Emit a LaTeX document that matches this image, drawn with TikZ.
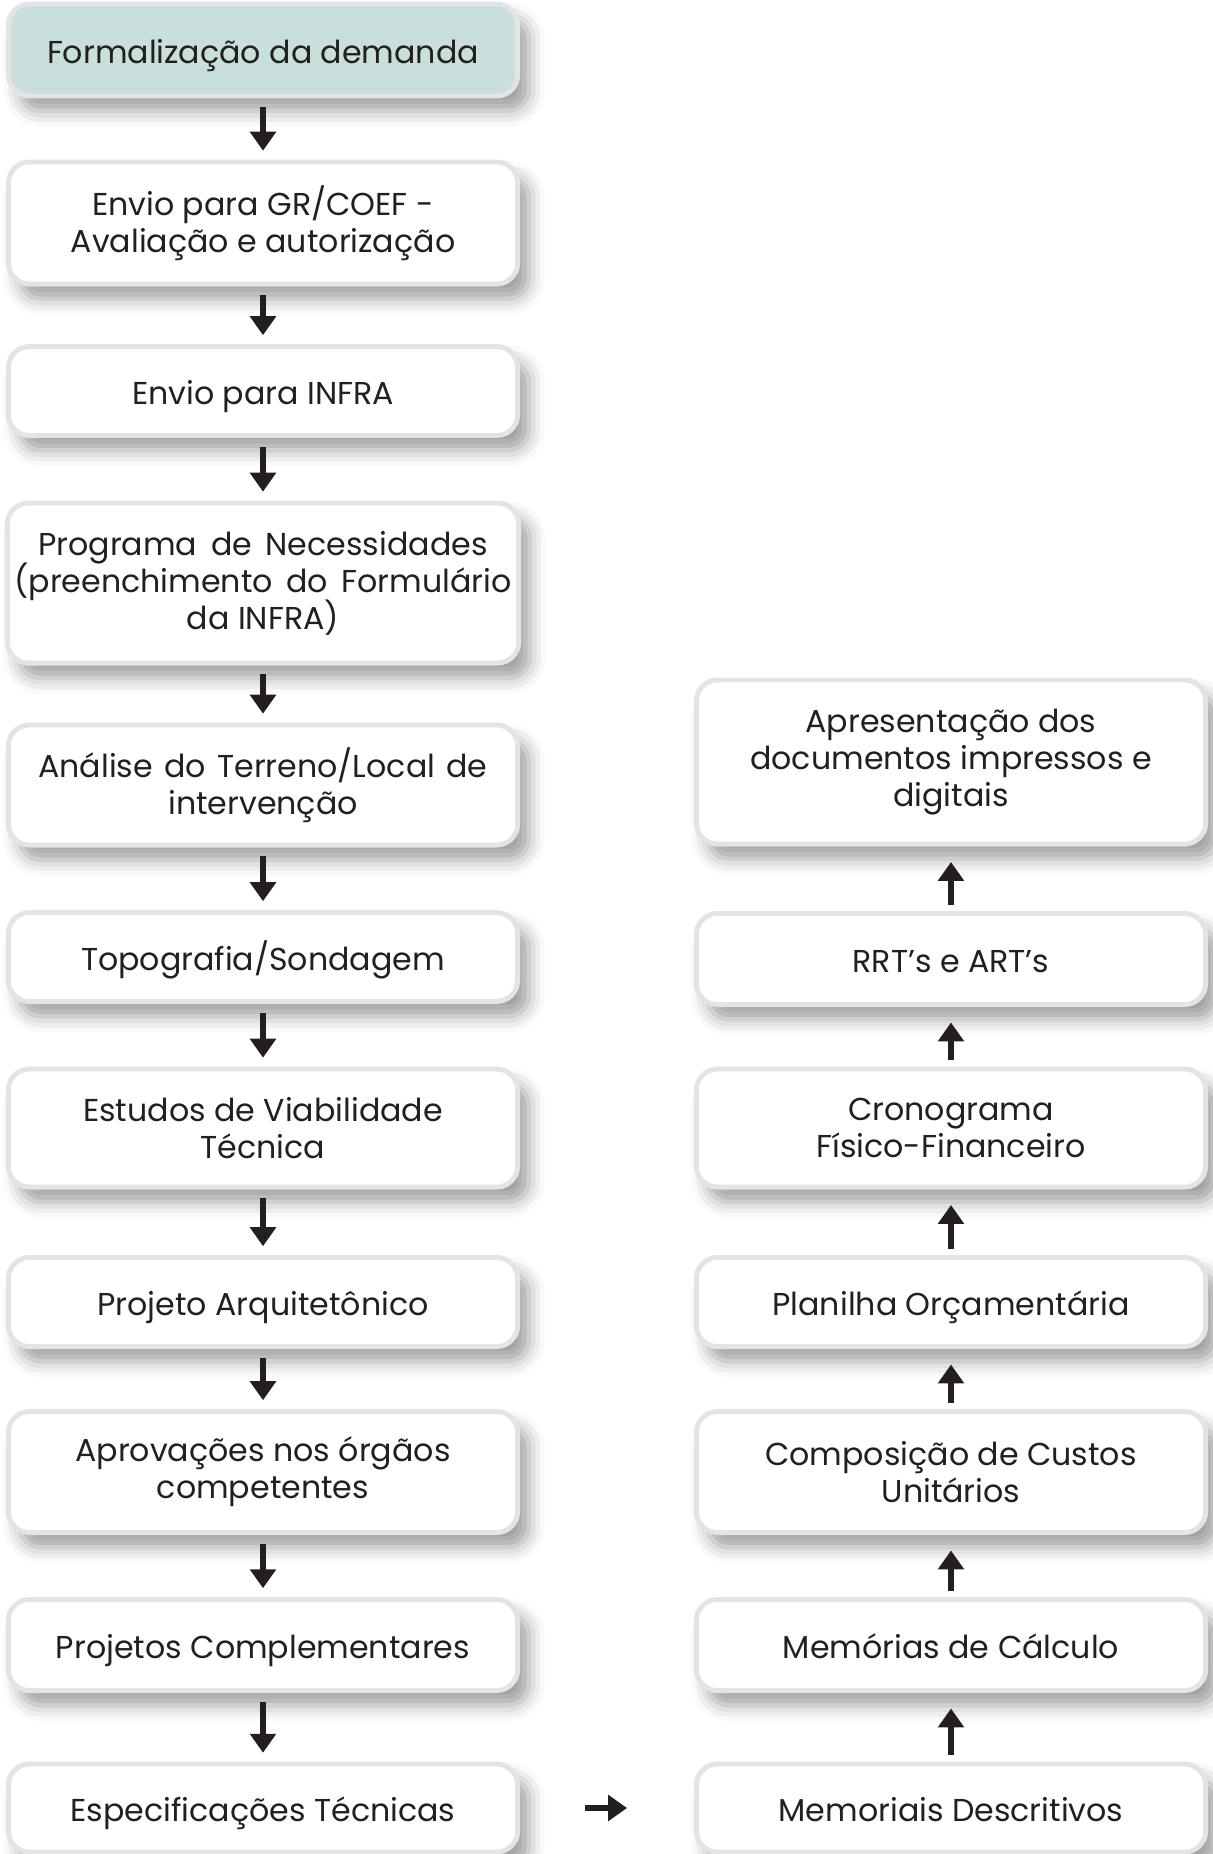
\documentclass[tikz,border=0pt]{standalone}
\usepackage{fontspec}
\setmainfont{Poppins}
\usetikzlibrary{arrows.meta,shadows.blur}
\definecolor{borda}{HTML}{E3E4E5}
\definecolor{verdeclaro}{HTML}{C8DFDB}
\definecolor{texto}{HTML}{231F20}
\lineskiplimit=-10pt

\begin{document}
\begin{tikzpicture}[x=0.01cm, y=-0.01cm,
		etapa/.style={draw=borda, line width=1.4pt, fill=white, rounded corners=6pt, minimum width=5.09cm, align=center, text=texto, inner sep=2pt, font=\fontsize{9}{10.5}\selectfont, blur shadow={shadow xshift=3.2pt, shadow yshift=-4.2pt, shadow blur radius=4.5pt, shadow opacity=38}},
		uma/.style={text height=7.9pt, text depth=0pt},
		seta/.style={-{Triangle[width=7.2pt, length=5.4pt]}, line width=1.7pt, texto},
		desce/.style={seta, shorten <=2.5pt, shorten >=2.5pt},
		sobe/.style={seta, shorten <=1.8pt, shorten >=4.4pt}]
			\useasboundingbox (0,0) rectangle (1213,1854);
			
			\node[etapa, uma, fill=verdeclaro, minimum height=0.92cm] (f1) at (263,50) {Formalização da demanda};
			\node[etapa, minimum height=1.22cm] (f2) at (263,223) {Envio para GR/COEF -\\Avaliação e autorização};
			\node[etapa, uma, minimum height=0.89cm] (f3) at (263,391) {Envio para INFRA};
			\node[etapa, minimum height=1.60cm] (f4) at (263,583) {\makebox[4.49cm][s]{Programa de Necessidades}\\\makebox[4.97cm][s]{(preenchimento do Formulário}\\da INFRA)};
			\node[etapa, minimum height=1.20cm] (f5) at (263,785) {\makebox[4.49cm][s]{Análise do Terreno/Local de}\\intervenção};
			\node[etapa, uma, minimum height=0.89cm] (f6) at (263,957) {Topografia/Sondagem};
			\node[etapa, minimum height=1.18cm] (f7) at (263,1128) {Estudos de Viabilidade\\Técnica};
			\node[etapa, uma, minimum height=0.89cm] (f8) at (263,1302) {Projeto Arquitetônico};
			\node[etapa, minimum height=1.21cm] (f9) at (263,1472) {Aprovações nos órgãos\\competentes};
			\node[etapa, uma, minimum height=0.91cm] (f10) at (263,1645) {Projetos Complementares};
			\node[etapa, uma, minimum height=0.88cm] (f11) at (263,1808) {Especificações Técnicas};
			
			\node[etapa, uma, minimum height=0.88cm] (d1) at (951,1808) {Memoriais Descritivos};
			\node[etapa, uma, minimum height=0.91cm] (d2) at (951,1645) {Memórias de Cálculo};
			\node[etapa, minimum height=1.21cm] (d3) at (951,1472) {Composição de Custos\\Unitários};
			\node[etapa, uma, minimum height=0.89cm] (d4) at (951,1302) {Planilha Orçamentária};
			\node[etapa, minimum height=1.18cm] (d5) at (951,1128) {Cronograma\\Físico-Financeiro};
			\node[etapa, uma, minimum height=0.91cm] (d6) at (951,959) {RRT’s e ART’s};
			\node[etapa, minimum height=1.64cm] (d7) at (951,762) {Apresentação dos\\documentos impressos e\\digitais};
			
			\draw[desce] (f1) -- (f2);
			\draw[desce] (f2) -- (f3);
			\draw[desce] (f3) -- (f4);
			\draw[desce] (f4) -- (f5);
			\draw[desce] (f5) -- (f6);
			\draw[desce] (f6) -- (f7);
			\draw[desce] (f7) -- (f8);
			\draw[desce] (f8) -- (f9);
			\draw[desce] (f9) -- (f10);
			\draw[desce] (f10) -- (f11);
			
			\draw[seta, shorten <=18.5pt, shorten >=19pt] (f11) -- (d1);
			
			\draw[sobe] (d1) -- (d2);
			\draw[sobe] (d2) -- (d3);
			\draw[sobe] (d3) -- (d4);
			\draw[sobe] (d4) -- (d5);
			\draw[sobe] (d5) -- (d6);
			\draw[sobe] (d6) -- (d7);
		\end{tikzpicture}
\end{document}
